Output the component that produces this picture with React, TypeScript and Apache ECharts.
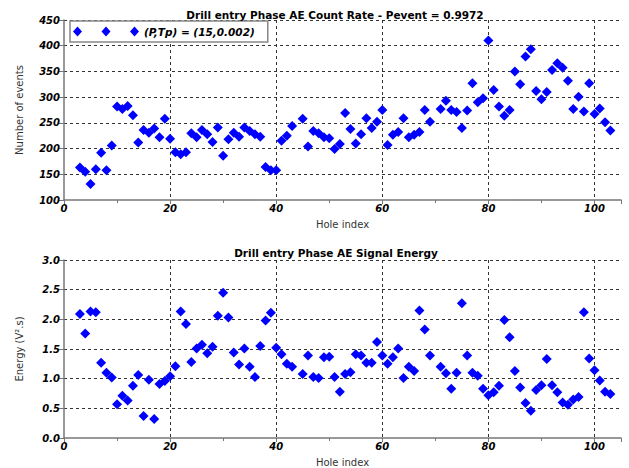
import React, { useEffect, useRef } from "react";
import * as echarts from "echarts";

const holeIndex = [
  3, 4, 5, 6, 7, 8, 9, 10, 11, 12, 13, 14, 15, 16, 17, 18, 19, 20, 21, 22, 23, 24, 25, 26, 27, 28, 29, 30,
  31, 32, 33, 34, 35, 36, 37, 38, 39, 40, 41, 42, 43, 45, 46, 47, 48, 49, 50, 51, 52, 53, 54, 55, 56, 57,
  58, 59, 60, 61, 62, 63, 64, 65, 66, 67, 68, 69, 71, 72, 73, 74, 75, 76, 77, 78, 79, 80, 81, 82, 83, 84,
  85, 86, 87, 88, 89, 90, 91, 92, 93, 94, 95, 96, 97, 98, 99, 100, 101, 102, 103,
];

const countRate = [
  163, 155, 131, 160, 192, 158, 206, 282, 277, 283, 265, 212, 236, 231, 239, 222, 258, 219, 193, 189, 193, 230, 222, 236, 228, 213, 241, 186,
  218, 231, 223, 241, 234, 228, 223, 164, 158, 158, 215, 225, 244, 258, 204, 234, 230, 222, 220, 199, 209, 269, 238, 210, 228, 259,
  240, 252, 275, 207, 227, 232, 259, 222, 227, 232, 275, 252, 277, 293, 275, 271, 240, 274, 327, 290, 298, 410, 314, 282, 264, 275,
  350, 325, 379, 393, 312, 296, 310, 353, 366, 357, 332, 277, 301, 272, 327, 267, 278, 251, 235,
];

const energy = [
  2.09, 1.76, 2.13, 2.12, 1.27, 1.1, 1.02, 0.57, 0.71, 0.63, 0.88, 1.06, 0.37, 0.98, 0.32, 0.91, 0.96, 1.04, 1.21, 2.13, 1.92, 1.28, 1.51, 1.57, 1.43, 1.54, 2.06, 2.45,
  2.03, 1.44, 1.24, 1.51, 1.2, 1.03, 1.55, 1.98, 2.11, 1.52, 1.41, 1.25, 1.2, 1.08, 1.39, 1.03, 1.01, 1.36, 1.37, 1.03, 0.78, 1.08, 1.11, 1.41, 1.39, 1.27,
  1.27, 1.62, 1.39, 1.25, 1.36, 1.51, 1.01, 1.2, 1.13, 2.15, 1.83, 1.39, 1.2, 1.09, 0.83, 1.1, 2.27, 1.39, 1.1, 1.05, 0.83, 0.72, 0.77, 0.88, 1.99, 1.7,
  1.13, 0.85, 0.59, 0.46, 0.81, 0.89, 1.33, 0.89, 0.77, 0.6, 0.56, 0.65, 0.69, 2.12, 1.34, 1.14, 0.97, 0.78, 0.74,
];

const topTitle = "Drill entry Phase AE Count Rate - Pevent = 0.9972";
const bottomTitle = "Drill entry Phase AE Signal Energy";
const legendLabel = "(P,Tp) = (15,0.002)";
const xName = "Hole index";
const topYName = "Number of events";
const bottomYName = "Energy (V².s)";

const FONT = "DejaVu Sans";

export default function App() {
  const ref = useRef<HTMLDivElement>(null);
  useEffect(() => {
    if (!ref.current) return;
    const chart = echarts.init(ref.current, null, { renderer: "svg" });

    const axisLabel = {
      fontFamily: FONT,
      fontSize: 10,
      fontWeight: "bold",
      fontStyle: "italic",
      color: "#000",
    };
    const splitLine = {
      show: true,
      showMinLine: false,
      showMaxLine: false,
      lineStyle: { color: "#333", type: [3, 3], width: 1 },
    };
    const axisLine = { show: true, lineStyle: { color: "#777", width: 1.5 } };
    const nameStyle = { fontFamily: FONT, fontSize: 10, color: "#333" };

    const xAxisBase = (gridIndex: number) => ({
      type: "value",
      gridIndex,
      min: 0,
      max: 105,
      interval: 20,
      name: xName,
      nameLocation: "middle",
      nameGap: 19,
      nameTextStyle: nameStyle,
      axisLine,
      axisTick: { show: true, length: 4, inside: false, lineStyle: { color: "#777" } },
      minorTick: { show: true, splitNumber: 2, length: 3, lineStyle: { color: "#777" } },
      axisLabel: { ...axisLabel, margin: 3, showMaxLabel: false },
      splitLine: { ...splitLine },
    });

    const diamonds =
      "path://M4.5 0 L9 5 L4.5 10 L0 5 Z M33 0 L37.5 5 L33 10 L28.5 5 Z M61.5 0 L66 5 L61.5 10 L57 5 Z";

    const titleStyle = { fontFamily: FONT, fontSize: 10.5, fontWeight: "bold", color: "#000" };

    chart.setOption({
      animation: false,
      backgroundColor: "#fff",
      title: [
        { text: topTitle, left: 330, top: 4, textAlign: "center", textStyle: titleStyle },
        { text: bottomTitle, left: 331, top: 242, textAlign: "center", textStyle: titleStyle },
      ],
      legend: {
        data: [{ name: legendLabel, icon: diamonds }],
        left: 70,
        top: 21,
        orient: "horizontal",
        itemWidth: 66,
        itemHeight: 10,
        padding: [5, 13, 5, 3],
        backgroundColor: "#fff",
        borderColor: "#888",
        borderWidth: 1.5,
        borderRadius: 0,
        textStyle: {
          fontFamily: FONT,
          fontSize: 10.5,
          fontWeight: "bold",
          fontStyle: "italic",
          color: "#000",
        },
      },
      grid: [
        { left: 64, right: 8, top: 20, height: 180 },
        { left: 64, right: 8, top: 260, height: 179 },
      ],
      xAxis: [xAxisBase(0), xAxisBase(1)],
      yAxis: [
        {
          type: "value",
          gridIndex: 0,
          min: 100,
          max: 450,
          interval: 50,
          name: topYName,
          nameLocation: "middle",
          nameGap: 40,
          nameTextStyle: nameStyle,
          axisLine,
          axisTick: { show: true, length: 6, lineStyle: { color: "#777" } },
          axisLabel: { ...axisLabel, margin: 4 },
          splitLine: { ...splitLine, showMaxLine: true },
        },
        {
          type: "value",
          gridIndex: 1,
          min: 0,
          max: 3,
          interval: 0.5,
          name: bottomYName,
          nameLocation: "middle",
          nameGap: 40,
          nameTextStyle: nameStyle,
          axisLine,
          axisTick: { show: true, length: 6, lineStyle: { color: "#777" } },
          axisLabel: { ...axisLabel, margin: 4, formatter: (v: number) => v.toFixed(1) },
          splitLine: { ...splitLine, showMaxLine: true },
        },
      ],
      series: [
        {
          type: "scatter",
          name: legendLabel,
          xAxisIndex: 0,
          yAxisIndex: 0,
          symbol: "diamond",
          symbolSize: [10, 10],
          itemStyle: { color: "#0000ff", opacity: 1 },
          data: holeIndex.map((h, i) => [h, countRate[i]]),
        },
        {
          type: "scatter",
          name: "energy",
          xAxisIndex: 1,
          yAxisIndex: 1,
          symbol: "diamond",
          symbolSize: [10, 10],
          itemStyle: { color: "#0000ff", opacity: 1 },
          data: holeIndex.map((h, i) => [h, energy[i]]),
        },
      ],
    });
    return () => chart.dispose();
  }, []);

  return (
    <div
      ref={ref}
      style={{ position: "fixed", left: 0, top: 0, width: 629, height: 468, background: "#fff" }}
    />
  );
}
